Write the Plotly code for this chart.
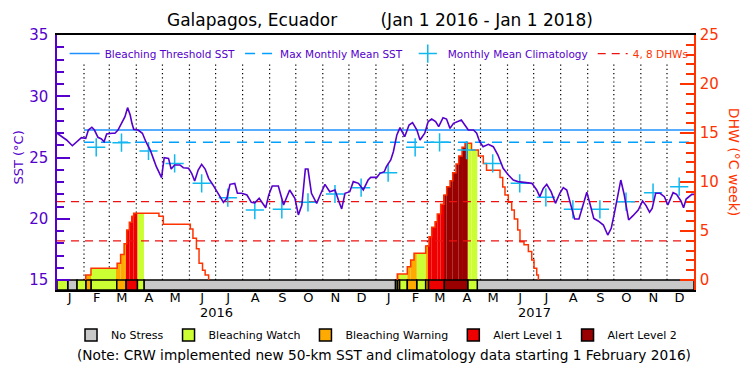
import plotly.graph_objects as go
import pandas as pd

# ---------------- data ----------------
START = pd.Timestamp("2016-01-01")
END = pd.Timestamp("2018-01-01")
DAY_MS = 86400000

# SST (days since 2016-01-01, degC)
sst_days = [0, 5, 11, 17.6, 22.6, 28, 33, 36, 40, 43, 47, 51, 54, 57, 63, 66.5, 70, 74, 78, 81,
            84, 86, 88, 93, 98, 102, 107, 110.5, 114, 120, 123, 128, 131, 135, 141, 145, 151,
            154.5, 158, 162, 166, 170, 174, 179, 185, 191, 195, 198.5, 204, 207, 212, 218, 223,
            227, 232, 235, 239.5, 243, 247, 254, 260, 267, 273, 277, 281, 285, 288, 292, 298,
            302, 307.5, 313, 319, 323.6, 326.7, 330.5, 336, 340, 346, 351.5, 357, 360, 367,
            370.7, 375.6, 378, 383, 386, 390, 393.6, 396, 399, 404, 408, 413, 416.6, 422, 426,
            430, 434.5, 438, 443, 447, 451, 455, 460, 464, 468, 472, 478, 481.6, 485, 489, 495,
            500.7, 506, 512, 518, 523.6, 529, 537, 545, 550.5, 554, 558, 562, 567, 572, 577,
            581, 585, 589, 594, 599, 604, 608, 612, 616, 621, 627, 632, 636, 640, 644, 647, 651,
            656, 661, 667, 672, 676, 680, 683, 687, 692, 697, 701, 707, 711, 716, 719, 722,
            728.5, 731]
sst_vals = [26.98, 26.70, 26.43, 25.96, 26.29, 26.62, 26.56, 27.24, 27.47, 27.24, 26.65, 26.51,
            26.29, 26.92, 26.98, 26.98, 27.24, 27.79, 28.33, 29.07, 28.47, 27.79, 27.30, 27.24,
            26.98, 26.29, 25.61, 24.93, 24.25, 23.35, 24.98, 24.93, 24.06, 24.39, 24.39, 24.17,
            24.12, 23.71, 23.08, 23.98, 24.44, 24.06, 23.30, 22.76, 22.08, 21.34, 21.67, 22.81,
            22.89, 22.08, 22.08, 21.94, 21.34, 21.30, 21.67, 21.39, 20.90, 21.94, 22.67, 22.67,
            21.12, 22.35, 21.67, 20.31, 21.12, 24.06, 24.06, 22.08, 21.26, 21.94, 22.81, 22.21,
            22.35, 21.39, 20.80, 22.08, 22.21, 23.03, 22.89, 22.35, 23.16, 23.38, 23.38, 23.71,
            23.84, 24.25, 24.80, 25.47, 26.84, 27.44, 27.10, 26.70, 27.65, 27.84, 27.24, 26.43,
            26.98, 27.93, 28.14, 27.93, 27.52, 28.25, 28.14, 27.38, 27.79, 27.93, 28.06, 27.65,
            27.24, 27.24, 26.98, 26.29, 25.88, 26.07, 25.88, 25.20, 24.12, 23.57, 23.16, 23.03,
            22.98, 22.89, 22.35, 21.80, 22.48, 22.81, 22.21, 21.26, 22.08, 22.54, 22.35, 21.39,
            19.98, 19.98, 21.12, 22.16, 21.12, 20.03, 19.82, 19.49, 18.67, 19.22, 20.58, 22.21,
            23.16, 21.94, 19.90, 20.25, 20.71, 21.45, 21.07, 20.53, 20.85, 22.08, 22.08, 21.80,
            21.12, 22.13, 21.99, 21.45, 20.90, 21.61, 21.99, 21.99]

# Monthly mean climatology
clim_dates = ["2016-02-15", "2016-03-15", "2016-04-15", "2016-05-15", "2016-06-15", "2016-07-15",
              "2016-08-15", "2016-09-15", "2016-10-15", "2016-11-15", "2016-12-15", "2017-01-15",
              "2017-02-15", "2017-03-15", "2017-04-15", "2017-05-15", "2017-06-15", "2017-07-15",
              "2017-08-15", "2017-09-15", "2017-10-15", "2017-11-15", "2017-12-15"]
clim_vals = [25.83, 26.21, 25.53, 24.52, 22.89, 21.72, 20.71, 20.77, 21.34, 22.02, 22.54, 23.76,
             25.83, 26.24, 25.61, 24.52, 22.89, 21.75, 20.77, 20.77, 21.39, 22.13, 22.62]

mmm_sst = 26.25
threshold_sst = mmm_sst + 1.0
threshold_start = "2016-02-01"
dhw_levels = [4, 8]

# Degree Heating Weeks, stepwise (days since 2016-01-01)
dhw_ep1_days = [33, 39, 69, 73, 77, 80, 83, 86, 88, 117, 122, 153, 156, 160, 163, 167, 170, 174]
dhw_ep1_vals = [0.5, 1.2, 1.7, 2.6, 3.7, 5.1, 5.9, 6.5, 6.8, 6.5, 5.7, 5.2, 4.25, 3.2, 1.7, 1.0, 0.5, 0]
dhw_ep2_days = [390.5, 402, 405.9, 409.7, 423.1, 426.9, 430, 433.8, 436.4, 440.3, 444.1, 447.2,
                451, 454.1, 457.9, 461, 464.8, 468.2, 475.7, 483.5, 489.2, 492.9, 508.4, 511.5,
                514.1, 517.9, 521.8, 524.8, 528.7, 531.3, 535.9, 540.9, 544.8, 547.4, 550.5, 552.4]
dhw_ep2_vals = [0.6, 1.36, 2.04, 2.72, 3.47, 4.42, 5.37, 5.95, 6.73, 7.72, 8.67, 9.52, 10.14,
                10.95, 11.84, 12.65, 13.54, 13.95, 13.27, 12.65, 11.9, 11.2, 10.45, 9.5, 8.67,
                7.93, 7.14, 6.22, 5.1, 3.9, 3.6, 2.9, 2.04, 1.19, 0.51, 0]

# Bleaching alert status (segment start day, level)
status_start_days = [0, 12.3, 23, 33.3, 39, 68.6, 79.4, 92.2, 99.8, 388.5, 390.7, 393, 402,
                     412.8, 423.1, 426.3, 444.5, 471.3, 482.3]
status_levels = ["Bleaching Watch", "No Stress", "Bleaching Watch", "Bleaching Warning",
                 "Bleaching Watch", "Bleaching Warning", "Alert Level 1", "Bleaching Watch",
                 "No Stress", "Bleaching Watch", "Bleaching Warning", "Bleaching Watch",
                 "Bleaching Warning", "Bleaching Watch", "Bleaching Warning", "Alert Level 1",
                 "Alert Level 2", "Bleaching Watch", "No Stress"]
level_names = ["No Stress", "Bleaching Watch", "Bleaching Warning", "Alert Level 1", "Alert Level 2"]
level_colors = ["#c8c8c8", "#ccff33", "#ffaa00", "#ee0000", "#990000"]

month_letters = ["J", "F", "M", "A", "M", "J", "J", "A", "S", "O", "N", "D"]
years = [2016, 2017]

# ---------------- style ----------------
PURPLE = "#5500cc"
ORANGE = "#ff3300"
CYAN = "#10b8f0"
DHW_MIN = -1.0204
SST_MIN = 14.1837
GRID_TOP = 22.2
FONT = "DejaVu Sans"


def d2t(d):
    return START + pd.Timedelta(days=float(d))


total_days = (END - START).days
status_end_days = status_start_days[1:] + [total_days]
episodes = [(dhw_ep1_days, dhw_ep1_vals), (dhw_ep2_days, dhw_ep2_vals)]

fig = go.Figure()

# month-boundary dotted lines (bottom layer, hidden axis y)
month_starts = pd.date_range(START, END, freq="MS")
grid_vals = [m for m in month_starts if START < m < END]
gx, gy = [], []
for m in grid_vals:
    gx += [m, m, None]
    gy += [0, GRID_TOP, None]
fig.add_trace(go.Scatter(x=gx, y=gy, yaxis="y", mode="lines",
                         line=dict(color="black", width=1.2, dash="1.2px,3px"),
                         showlegend=False, hoverinfo="skip"))

# status fill under DHW
steps = []
for days, vals in episodes:
    for i in range(len(days) - 1):
        steps.append((days[i], days[i + 1], vals[i]))
fills = {n: ([], [], []) for n in level_names}
for s0, s1, lvl in zip(status_start_days, status_end_days, status_levels):
    if lvl == "No Stress":
        continue
    for d0, d1, v in steps:
        a, b = max(s0, d0), min(s1, d1)
        if b > a and v > 0:
            fills[lvl][0].append(d2t((a + b) / 2))
            fills[lvl][1].append((b - a) * DAY_MS)
            fills[lvl][2].append(v)
for n, c in zip(level_names, level_colors):
    xs, ws, hs = fills[n]
    if xs:
        fig.add_trace(go.Bar(x=xs, width=ws, y=hs, base=0, yaxis="y2",
                             marker=dict(color=c, line=dict(width=0)),
                             showlegend=False, hoverinfo="skip"))

# status bar
for n, c in zip(level_names, level_colors):
    xs, ws = [], []
    for s0, s1, lvl in zip(status_start_days, status_end_days, status_levels):
        if lvl == n:
            xs.append(d2t((s0 + s1) / 2))
            ws.append((s1 - s0) * DAY_MS)
    fig.add_trace(go.Bar(x=xs, width=ws, y=[0 - DHW_MIN] * len(xs), base=DHW_MIN, yaxis="y2",
                         marker=dict(color=c, line=dict(color="black", width=1.5)),
                         name=n, legend="legend2", hoverinfo="skip"))

# DHW line
dhw_x, dhw_y = [], []
for days, vals in episodes:
    dhw_x += [d2t(days[0])] + [d2t(d) for d in days] + [None]
    dhw_y += [0] + list(vals) + [None]
fig.add_trace(go.Scatter(x=dhw_x, y=dhw_y, yaxis="y2", mode="lines",
                         line=dict(color=ORANGE, width=1.5, shape="hv"), showlegend=False))

# DHW 4, 8 lines
lx, ly = [], []
for lv in dhw_levels:
    lx += [START, END, None]
    ly += [lv, lv, None]
fig.add_trace(go.Scatter(x=lx, y=ly, yaxis="y2", mode="lines",
                         line=dict(color="#ee1111", width=1.3, dash="8px,6px"),
                         name="<span style='color:%s'>4, 8 DHWs</span>" % ORANGE, legendrank=4))

# SST traces on left axis
fig.add_trace(go.Scatter(x=[threshold_start, END], y=[threshold_sst, threshold_sst], yaxis="y3",
                         mode="lines", line=dict(color="#1e90ff", width=1.5),
                         name="Bleaching Threshold SST", legendrank=1))
fig.add_trace(go.Scatter(x=[threshold_start, END], y=[mmm_sst, mmm_sst], yaxis="y3",
                         mode="lines", line=dict(color="#00a0ff", width=1.5, dash="10px,7px"),
                         name="Max Monthly Mean SST", legendrank=2))
fig.add_trace(go.Scatter(x=clim_dates, y=clim_vals, yaxis="y3", mode="markers",
                         marker=dict(symbol="cross-thin-open", size=13, color=CYAN,
                                     line=dict(color=CYAN, width=1.5)),
                         name="Monthly Mean Climatology", legendrank=3))
fig.add_trace(go.Scatter(x=[d2t(d) for d in sst_days], y=sst_vals, yaxis="y3", mode="lines",
                         line=dict(color=PURPLE, width=1.6), showlegend=False))

mid_months = [m + pd.Timedelta(days=14.5) for m in month_starts[:-1]]
mid_text = [month_letters[m.month - 1] for m in month_starts[:-1]]

annotations = [
    dict(text="SST (°C)", x=-0.061, y=0.52, xref="paper", yref="paper", textangle=-90,
         xanchor="center", yanchor="middle", showarrow=False, font=dict(color=PURPLE, size=13)),
    dict(text="DHW (°C week)", x=1.064, y=0.50, xref="paper", yref="paper", textangle=90,
         xanchor="center", yanchor="middle", showarrow=False, font=dict(color=ORANGE, size=14)),
    dict(text="(Note: CRW implemented new 50-km SST and climatology data starting 1 February 2016)",
         x=0.513, y=-0.255, xref="paper", yref="paper", xanchor="center", yanchor="middle",
         showarrow=False, font=dict(size=13.7, color="black")),
]
for yr in years:
    annotations.append(dict(text=str(yr), x=pd.Timestamp(f"{yr}-07-02"), y=-0.09, xref="x",
                            yref="paper", xanchor="center", yanchor="middle", showarrow=False,
                            font=dict(size=13, color="black")))

minor_l = [v for v in range(16, 35) if v % 5]
minor_r = [v for v in range(1, 25) if v % 5]

fig.update_layout(
    width=750, height=375,
    margin=dict(l=57, r=56, t=35, b=85, autoexpand=False),
    paper_bgcolor="white", plot_bgcolor="white",
    barmode="overlay",
    font=dict(family=FONT, size=12, color="black"),
    title=dict(text="Galapagos, Ecuador&nbsp;&nbsp;&nbsp;&nbsp;&nbsp;&nbsp;&nbsp;&nbsp;(Jan 1 2016 - Jan 1 2018)",
               x=0.507, xref="paper", xanchor="center", y=0.947, yref="container", yanchor="middle",
               font=dict(size=17, color="black")),
    xaxis=dict(type="date", range=[START, END], tickvals=mid_months, ticktext=mid_text, ticks="",
               showgrid=False, zeroline=False, showline=True, linecolor="black", linewidth=1.5,
               mirror=True, tickfont=dict(size=13, color="black"), ticklabelstandoff=-5),
    yaxis=dict(range=[DHW_MIN, 25], visible=False, fixedrange=True),
    yaxis2=dict(range=[DHW_MIN, 25], side="right", overlaying="y", anchor="x",
                tickvals=[0, 5, 10, 15, 20, 25], ticks="inside",
                ticklen=14, tickcolor=ORANGE, tickwidth=1.5, showline=True, linecolor=ORANGE,
                linewidth=1.5, showgrid=False, zeroline=False, ticklabelstandoff=1,
                tickfont=dict(color=ORANGE, size=15),
                minor=dict(tickvals=minor_r, ticks="inside", ticklen=8, tickcolor=ORANGE, tickwidth=1.5)),
    yaxis3=dict(range=[SST_MIN, 35], side="left", overlaying="y", anchor="x",
                tickvals=[15, 20, 25, 30, 35], ticks="inside", ticklen=13, tickcolor=PURPLE,
                tickwidth=1.5, showline=True, linecolor=PURPLE, linewidth=1.5, showgrid=False,
                zeroline=False, ticklabelstandoff=4, tickfont=dict(color=PURPLE, size=15),
                minor=dict(tickvals=minor_l, ticks="inside", ticklen=7, tickcolor=PURPLE, tickwidth=1.5)),
    legend=dict(orientation="h", x=0.012, xanchor="left", y=0.927, yanchor="middle",
                bgcolor="rgba(0,0,0,0)", font=dict(size=10.5, color=PURPLE), traceorder="normal",
                itemwidth=30),
    legend2=dict(orientation="h", x=0.022, xanchor="left", y=-0.176, yanchor="middle",
                 bgcolor="rgba(0,0,0,0)", font=dict(size=11, color="black"), itemwidth=30),
    annotations=annotations,
    showlegend=True,
)

fig.write_html("out.html", post_script="document.body.style.margin='0';",
               config={"displayModeBar": False})
